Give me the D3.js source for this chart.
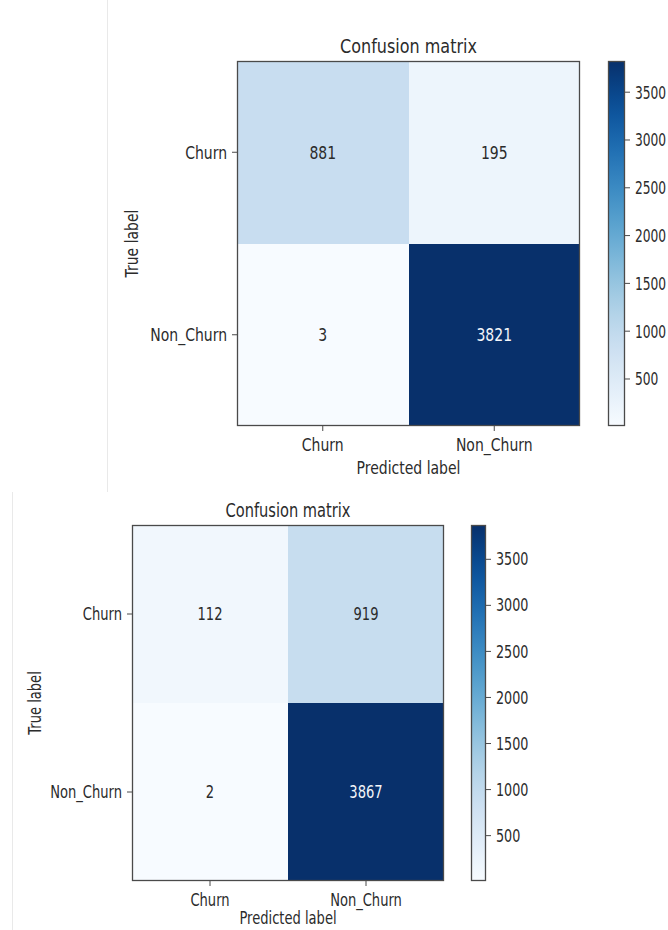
<!DOCTYPE html>
<html>
<head>
<meta charset="utf-8">
<script src="https://cdn.jsdelivr.net/npm/d3@7"></script>
<style>
  html, body { margin: 0; padding: 0; background: #fff; }
  svg { display: block; }
</style>
</head>
<body>
<svg id="chart" width="668" height="930"></svg>
<script>
// ---------- data ----------
const classes = ["Churn", "Non_Churn"];
const matrixTop = [[881, 195], [3, 3821]];
const matrixBottom = [[112, 919], [2, 3867]];
const chartTitles = ["Confusion matrix", "Confusion matrix"];
const xAxisTitle = "Predicted label";
const yAxisTitle = "True label";
const colorbarTicks = [500, 1000, 1500, 2000, 2500, 3000, 3500];

// ---------- layout ----------
const layouts = [
  { left: 237, top: 61, width: 343, height: 365, cbX: 608, cbW: 17,
    fs: 17.5, sx: 0.8, cbSx: 0.7, cbGap: 10, titleFs: 20, yTitleX: 132, xTitleDy: 42 },
  { left: 132, top: 525, width: 312, height: 356, cbX: 471, cbW: 15,
    fs: 17, sx: 0.77, cbSx: 0.75, cbGap: 10, titleFs: 19, yTitleX: 35, xTitleDy: 37 }
];
const matrices = [matrixTop, matrixBottom];
const FONT = "DejaVu Sans, sans-serif";
const TEXT = "#2b2b2b";
const FRAME = "#4a4a4a";

const svg = d3.select("#chart");

// faint notebook cell borders
svg.append("line").attr("x1", 107.5).attr("x2", 107.5).attr("y1", 0).attr("y2", 492)
  .attr("stroke", "#e9e9e9").attr("stroke-width", 1);
svg.append("line").attr("x1", 12.5).attr("x2", 12.5).attr("y1", 492).attr("y2", 930)
  .attr("stroke", "#e9e9e9").attr("stroke-width", 1);

function drawMatrix(idx) {
  const L = layouts[idx];
  const M = matrices[idx];
  const flat = M.flat();
  const vmin = d3.min(flat), vmax = d3.max(flat);
  const color = d3.scaleSequential(d3.interpolateBlues).domain([vmin, vmax]);

  const g = svg.append("g").attr("transform", `translate(${L.left},${L.top})`);
  const x = d3.scaleBand().domain(classes).range([0, L.width]);
  const y = d3.scaleBand().domain(classes).range([0, L.height]);

  const cells = [];
  M.forEach((row, i) => row.forEach((v, j) => cells.push({ r: classes[i], c: classes[j], v })));

  g.selectAll("rect.cell").data(cells).join("rect")
    .attr("class", "cell")
    .attr("x", d => x(d.c)).attr("y", d => y(d.r))
    .attr("width", x.bandwidth()).attr("height", y.bandwidth())
    .attr("fill", d => color(d.v))
    .attr("shape-rendering", "crispEdges");

  g.selectAll("text.val").data(cells).join("text")
    .attr("class", "val")
    .attr("transform", d => `translate(${x(d.c) + x.bandwidth() / 2},${y(d.r) + y.bandwidth() / 2}) scale(${L.sx},1)`)
    .attr("text-anchor", "middle").attr("dy", "0.36em")
    .attr("font-family", FONT).attr("font-size", L.fs)
    .attr("fill", d => d.v > vmax / 2 ? "#f4f6fa" : TEXT)
    .text(d => d.v);

  // frame
  g.append("rect").attr("x", 0.5).attr("y", 0.5)
    .attr("width", L.width - 1).attr("height", L.height - 1)
    .attr("fill", "none").attr("stroke", FRAME).attr("stroke-width", 1.3);

  // x axis
  const xa = g.append("g").attr("transform", `translate(0,${L.height})`)
    .call(d3.axisBottom(x).tickSize(5));
  xa.select(".domain").remove();
  xa.selectAll("line").attr("stroke", FRAME);
  xa.selectAll("text")
    .attr("y", 0).attr("dy", "0.36em")
    .attr("transform", `translate(0,19) scale(${L.sx},1)`)
    .attr("font-family", FONT).attr("font-size", L.fs).attr("fill", TEXT);

  // y axis
  const ya = g.append("g").call(d3.axisLeft(y).tickSize(5));
  ya.select(".domain").remove();
  ya.selectAll("line").attr("stroke", FRAME);
  ya.selectAll("text")
    .attr("x", -10 / L.sx).attr("dy", "0.36em")
    .attr("transform", `scale(${L.sx},1)`)
    .attr("font-family", FONT).attr("font-size", L.fs).attr("fill", TEXT);

  // titles
  g.append("text")
    .attr("transform", `translate(${L.width / 2},-8) scale(${L.sx},1)`)
    .attr("text-anchor", "middle")
    .attr("font-family", FONT).attr("font-size", L.titleFs).attr("fill", TEXT)
    .text(chartTitles[idx]);
  g.append("text")
    .attr("transform", `translate(${L.width / 2},${L.height + L.xTitleDy}) scale(${L.sx},1)`)
    .attr("text-anchor", "middle").attr("dy", "0.36em")
    .attr("font-family", FONT).attr("font-size", L.fs).attr("fill", TEXT)
    .text(xAxisTitle);
  g.append("text")
    .attr("transform", `translate(${L.yTitleX - L.left},${L.height / 2}) rotate(-90) scale(${L.sx},1)`)
    .attr("text-anchor", "middle").attr("dy", "0.36em")
    .attr("font-family", FONT).attr("font-size", L.fs).attr("fill", TEXT)
    .text(yAxisTitle);

  // colorbar
  const gradId = "grad" + idx;
  const grad = svg.append("defs").append("linearGradient").attr("id", gradId)
    .attr("x1", 0).attr("y1", 1).attr("x2", 0).attr("y2", 0);
  d3.range(0, 1.0001, 0.05).forEach(t => {
    grad.append("stop").attr("offset", t).attr("stop-color", d3.interpolateBlues(t));
  });
  const cb = svg.append("g").attr("transform", `translate(${L.cbX},${L.top})`);
  cb.append("rect").attr("width", L.cbW).attr("height", L.height)
    .attr("fill", `url(#${gradId})`);
  cb.append("rect").attr("x", 0.5).attr("y", 0.5)
    .attr("width", L.cbW - 1).attr("height", L.height - 1)
    .attr("fill", "none").attr("stroke", FRAME).attr("stroke-width", 1.3);
  const cscale = d3.scaleLinear().domain([vmin, vmax]).range([L.height, 0]);
  const ca = cb.append("g").attr("transform", `translate(${L.cbW},0)`)
    .call(d3.axisRight(cscale).tickValues(colorbarTicks).tickFormat(d3.format("d")).tickSize(5));
  ca.select(".domain").remove();
  ca.selectAll("line").attr("stroke", FRAME);
  ca.selectAll("text")
    .attr("x", L.cbGap / L.cbSx).attr("dy", "0.36em")
    .attr("transform", `scale(${L.cbSx},1)`)
    .attr("font-family", FONT).attr("font-size", L.fs).attr("fill", TEXT);
}

drawMatrix(0);
drawMatrix(1);
</script>
</body>
</html>
